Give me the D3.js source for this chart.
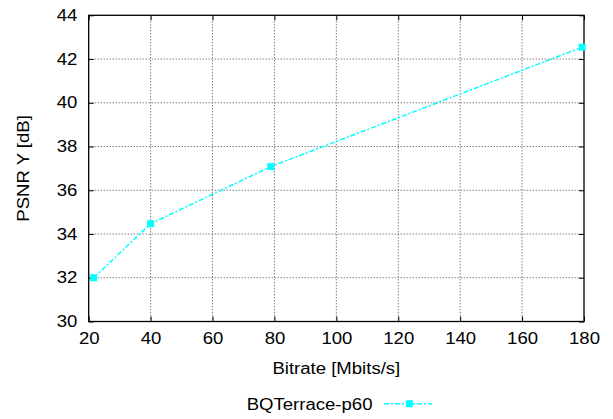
<!DOCTYPE html>
<html><head><meta charset="utf-8">
<script src="https://cdn.jsdelivr.net/npm/d3@7"></script>
<style>body{margin:0;background:#fff}svg{display:block}text{font-family:"Liberation Sans",Arial,sans-serif;fill:#000}</style>
</head><body>
<script>
const seriesName = "BQTerrace-p60";
const bitrate = [21.6, 40.0, 78.8, 179.4];
const psnr = [32.0, 34.47, 37.08, 42.54];
const xTicks = [20, 40, 60, 80, 100, 120, 140, 160, 180];
const yTicks = [30, 32, 34, 36, 38, 40, 42, 44];
const xLabel = "Bitrate [Mbits/s]";
const yLabel = "PSNR Y [dB]";

const W = 613, H = 419;
const L = 88.7, R = 584, T = 15.3, B = 321.5;
const FS = "16px", SX = 1.16;
const svg = d3.select("body").append("svg").attr("width", W).attr("height", H);
const x = d3.scaleLinear().domain([20, 180]).range([L, R]);
const y = d3.scaleLinear().domain([30, 44]).range([B, T]);
const color = "#00ffff";

function stretch(sel) {
  sel.each(function () {
    const t = d3.select(this);
    const x0 = +t.attr("x") || 0;
    const y0 = +t.attr("y") || 0;
    t.attr("transform", `translate(${x0},${y0}) scale(${SX},1) translate(${-x0},${-y0})`);
  });
}

// grid
const g = svg.append("g");
g.selectAll(".gx").data(xTicks.slice(1, -1)).enter().append("line")
  .attr("x1", d => x(d)).attr("x2", d => x(d)).attr("y1", T).attr("y2", B)
  .attr("stroke", "#444").attr("stroke-width", 1).attr("stroke-dasharray", "1,2");
g.selectAll(".gy").data(yTicks.slice(1, -1)).enter().append("line")
  .attr("y1", d => y(d)).attr("y2", d => y(d)).attr("x1", L).attr("x2", R)
  .attr("stroke", "#444").attr("stroke-width", 1).attr("stroke-dasharray", "1,2");

// axes (ticks inward, mirrored)
const tl = 5;
const axB = d3.axisBottom(x).tickValues(xTicks).tickSize(-tl).tickPadding(11.5);
const axL = d3.axisLeft(y).tickValues(yTicks).tickSize(-tl).tickPadding(11.4);
const axT = d3.axisTop(x).tickValues(xTicks).tickSize(-tl).tickFormat("");
const axR = d3.axisRight(y).tickValues(yTicks).tickSize(-tl).tickFormat("");
function styl(sel){ sel.select(".domain").remove(); sel.selectAll("text").style("font-size",FS).attr("fill","#000").call(stretch); sel.selectAll("line").attr("stroke","#000"); }
svg.append("g").attr("transform", `translate(0,${B})`).call(axB).call(styl);
svg.append("g").attr("transform", `translate(${L},0)`).call(axL).call(styl);
svg.append("g").attr("transform", `translate(0,${T})`).call(axT).call(styl);
svg.append("g").attr("transform", `translate(${R},0)`).call(axR).call(styl);
svg.selectAll("g text").style("font-family", '"Liberation Sans",Arial,sans-serif');

svg.append("rect").attr("x", L).attr("y", T).attr("width", R - L).attr("height", B - T)
  .attr("fill", "none").attr("stroke", "#000").attr("stroke-width", 1.3);

// series
const line = d3.line().x((d, i) => x(bitrate[i])).y(d => y(d));
svg.append("path").datum(psnr).attr("d", line).attr("fill", "none")
  .attr("stroke", color).attr("stroke-width", 1.5).attr("stroke-dasharray", "5,2,2,2");
svg.selectAll(".pt").data(psnr).enter().append("rect")
  .attr("x", (d, i) => x(bitrate[i]) - 3.5).attr("y", d => y(d) - 3.5)
  .attr("width", 7).attr("height", 7).attr("fill", color);

// labels
svg.append("text").attr("x", (L + R) / 2).attr("y", 374).attr("text-anchor", "middle")
  .style("font-size", FS).text(xLabel).call(stretch);
svg.append("text").attr("transform", `translate(29,${(T + B) / 2}) rotate(-90) scale(${SX},1)`)
  .attr("text-anchor", "middle").style("font-size", FS).text(yLabel);

// legend
svg.append("text").attr("x", 372.5).attr("y", 410).attr("text-anchor", "end")
  .style("font-size", FS).text(seriesName).call(stretch);
svg.append("line").attr("x1", 384).attr("x2", 432).attr("y1", 403.7).attr("y2", 403.7)
  .attr("stroke", color).attr("stroke-width", 1.5).attr("stroke-dasharray", "5,2,2,2");
svg.append("rect").attr("x", 409.3 - 3.5).attr("y", 403.7 - 3.5).attr("width", 7).attr("height", 7).attr("fill", color);
</script>
</body></html>
